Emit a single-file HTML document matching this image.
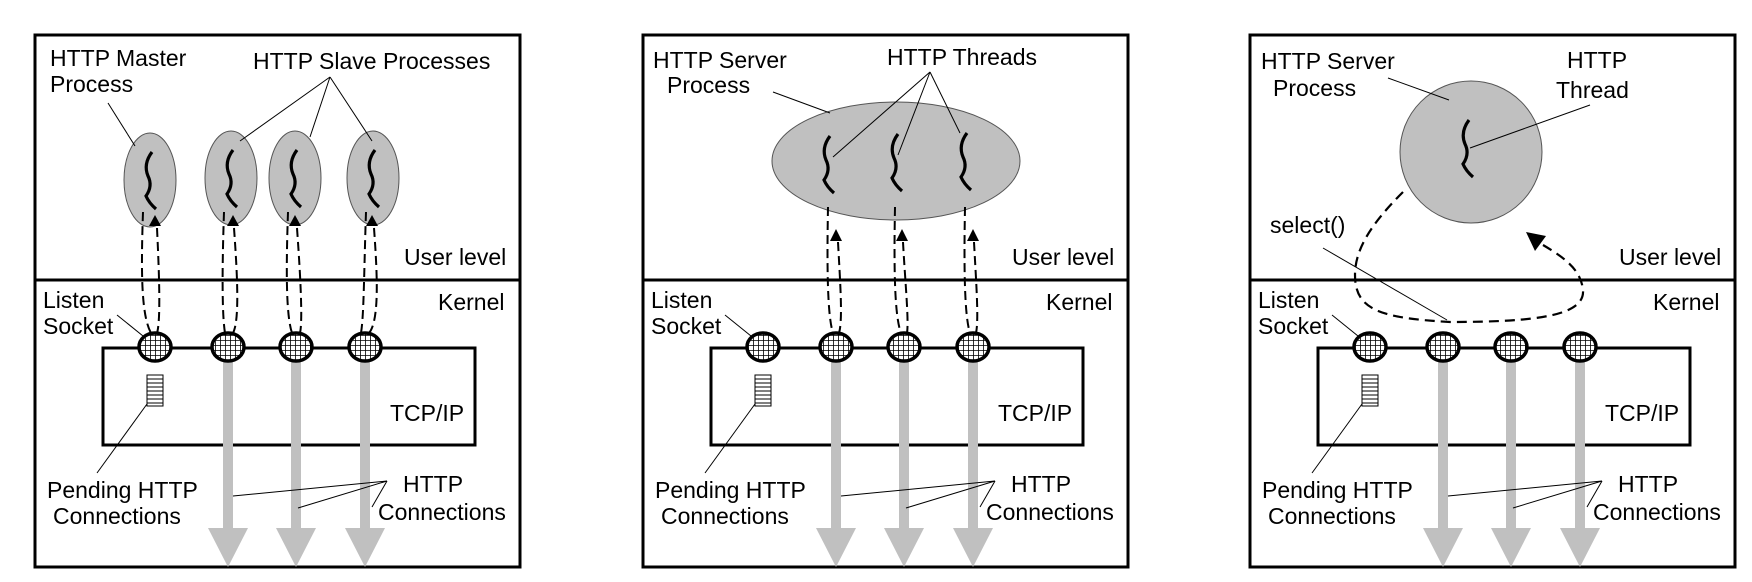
<!DOCTYPE html>
<html><head><meta charset="utf-8"><style>
html,body{margin:0;padding:0;background:#fff;}
svg{display:block;}
text{font-family:"Liberation Sans",Arial,sans-serif;font-size:23px;fill:#000;}
</style></head><body>
<svg width="1752" height="582" viewBox="0 0 1752 582" xmlns="http://www.w3.org/2000/svg">
<defs>
<pattern id="grid" width="5" height="5" patternUnits="userSpaceOnUse">
<rect width="5" height="5" fill="#fff"/>
<path d="M0 0H5M0 0V5" stroke="#000" stroke-width="1.6"/>
</pattern>
<g id="common">
<rect x="0" y="35" width="485" height="532" fill="none" stroke="#000" stroke-width="3"/>
<line x1="0" y1="280" x2="485" y2="280" stroke="#000" stroke-width="3"/>
<text x="369" y="265">User level</text>
<text x="403" y="310">Kernel</text>
<text x="8" y="308">Listen</text>
<text x="8" y="334">Socket</text>
<line x1="82" y1="315" x2="108" y2="336" stroke="#000" stroke-width="1"/>
<rect x="68" y="348" width="372" height="97" fill="none" stroke="#000" stroke-width="3"/>
<text x="355" y="421">TCP/IP</text>
<g stroke="#000" stroke-width="1" fill="#fff">
<rect x="112" y="375" width="16" height="31"/>
<path d="M112 379H128M112 383H128M112 387H128M112 391H128M112 395H128M112 399H128M112 403H128"/>
</g>
<line x1="112" y1="404" x2="62" y2="473" stroke="#000" stroke-width="1"/>
<text x="12" y="498">Pending HTTP</text>
<text x="18" y="524">Connections</text>
<g fill="#c0c0c0">
<rect x="188" y="360" width="10" height="170"/>
<polygon points="173,528 213,528 193,567"/>
<rect x="256" y="360" width="10" height="170"/>
<polygon points="241,528 281,528 261,567"/>
<rect x="325" y="360" width="10" height="170"/>
<polygon points="310,528 350,528 330,567"/>
</g>
<text x="368" y="492">HTTP</text>
<text x="343" y="520">Connections</text>
<g stroke="#000" stroke-width="1">
<line x1="352" y1="481" x2="198" y2="496"/>
<line x1="352" y1="481" x2="263" y2="508"/>
<line x1="352" y1="481" x2="337" y2="507"/>
</g>
<g fill="url(#grid)" stroke="#000" stroke-width="3.5">
<ellipse cx="120" cy="347" rx="16" ry="14"/>
<ellipse cx="193" cy="347" rx="16" ry="14"/>
<ellipse cx="261" cy="347" rx="16" ry="14"/>
<ellipse cx="330" cy="347" rx="16" ry="14"/>
</g>
</g>
<path id="thr" d="M4 0 Q-5 12 0 24 Q5 34 -2 44 Q1 51 8 57" fill="none" stroke="#000" stroke-width="3.2"/>
</defs>

<!-- Panel 1 -->
<g transform="translate(35,0)">
<use href="#common"/>
<text x="15" y="66">HTTP Master</text>
<text x="15" y="92">Process</text>
<text x="218" y="69">HTTP Slave Processes</text>
<g fill="#c0c0c0" stroke="#555" stroke-width="1">
<ellipse cx="115" cy="180" rx="26" ry="47"/>
<ellipse cx="196" cy="178" rx="26" ry="47"/>
<ellipse cx="260" cy="178" rx="26" ry="47"/>
<ellipse cx="338" cy="178" rx="26" ry="47"/>
</g>
<g stroke="#000" stroke-width="1">
<line x1="73" y1="103" x2="100" y2="146"/>
<line x1="295" y1="77" x2="205" y2="141"/>
<line x1="295" y1="77" x2="275" y2="137"/>
<line x1="295" y1="77" x2="337" y2="141"/>
</g>
<use href="#thr" x="113" y="152"/>
<use href="#thr" x="194" y="150"/>
<use href="#thr" x="258" y="150"/>
<use href="#thr" x="336" y="150"/>
<g fill="none" stroke="#000" stroke-width="2" stroke-dasharray="9,5">
<path d="M108 212 C106 270 106 315 116 333"/>
<path d="M122 228 C124 270 126 320 122 333"/>
<path d="M189 212 C187 270 187 315 190 333"/>
<path d="M199 228 C202 270 205 320 198 333"/>
<path d="M253 212 C251 270 251 315 257 333"/>
<path d="M262 228 C265 270 268 320 265 333"/>
<path d="M331 212 C329 270 329 315 326 333"/>
<path d="M339 228 C342 270 345 320 334 333"/>
</g>
<g fill="#000">
<polygon points="120,215 114,226 126,226"/>
<polygon points="198,215 192,226 204,226"/>
<polygon points="260,215 254,226 266,226"/>
<polygon points="337,215 331,226 343,226"/>
</g>
</g>

<!-- Panel 2 -->
<g transform="translate(643,0)">
<use href="#common"/>
<text x="10" y="68">HTTP Server</text>
<text x="24" y="93">Process</text>
<text x="244" y="65">HTTP Threads</text>
<ellipse cx="253" cy="161" rx="124" ry="59" fill="#c0c0c0" stroke="#555" stroke-width="1"/>
<use href="#thr" x="183" y="136"/>
<use href="#thr" x="251" y="134"/>
<use href="#thr" x="320" y="133"/>
<g stroke="#000" stroke-width="1">
<line x1="130" y1="92" x2="187" y2="113"/>
<line x1="287" y1="72" x2="190" y2="157"/>
<line x1="287" y1="72" x2="255" y2="155"/>
<line x1="287" y1="72" x2="317" y2="133"/>
</g>
<g fill="none" stroke="#000" stroke-width="2" stroke-dasharray="9,5">
<path d="M185 207 C184 260 184 315 190 333"/>
<path d="M195 242 C197 280 200 320 196 333"/>
<path d="M252 207 C251 260 251 315 258 333"/>
<path d="M260 242 C262 280 266 320 264 333"/>
<path d="M322 207 C321 260 321 315 327 333"/>
<path d="M331 242 C333 280 336 320 333 333"/>
</g>
<g fill="#000">
<polygon points="193,229 187,241 199,241"/>
<polygon points="259,229 253,241 265,241"/>
<polygon points="330,229 324,241 336,241"/>
</g>
</g>

<!-- Panel 3 -->
<g transform="translate(1250,0)">
<use href="#common"/>
<text x="11" y="69">HTTP Server</text>
<text x="23" y="96">Process</text>
<text x="317" y="68">HTTP</text>
<text x="306" y="98">Thread</text>
<circle cx="221" cy="152" r="71" fill="#c0c0c0" stroke="#555" stroke-width="1"/>
<use href="#thr" x="215" y="120"/>
<g stroke="#000" stroke-width="1">
<line x1="138" y1="78" x2="199" y2="100"/>
<line x1="220" y1="148" x2="340" y2="105"/>
<line x1="73" y1="248" x2="197" y2="320"/>
</g>
<text x="20" y="233">select()</text>
<path d="M153 192 C120 225 105 250 105 275 C105 310 130 318 200 322 C290 322 335 315 333 290 C331 270 315 258 293 245" fill="none" stroke="#000" stroke-width="2.2" stroke-dasharray="10,6"/>
<polygon points="276,232 296,236 285,251" fill="#000"/>
</g>
</svg>
</body></html>
